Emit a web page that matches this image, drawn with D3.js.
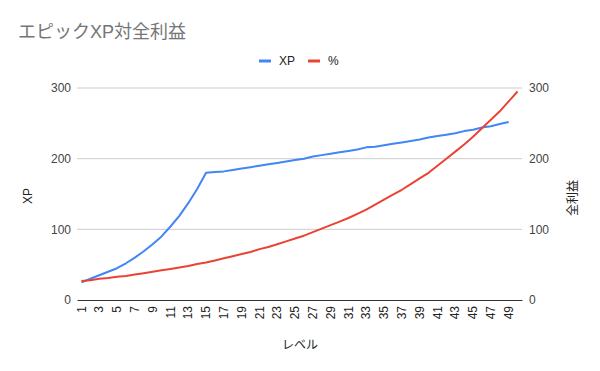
<!DOCTYPE html>
<html>
<head>
<meta charset="utf-8">
<script src="https://cdn.jsdelivr.net/npm/d3@7"></script>
<style>
	body { margin: 0; background: #fff; }
	svg text { font-family: Arial, "Liberation Sans", "Noto Sans CJK JP", sans-serif; }
</style>
</head>
<body>
<svg id="chart" width="600" height="371"></svg>
<script>
// levels 1..50
var levels = d3.range(1, 51);
var xpValues = [25, 30, 35, 40, 45, 52, 60, 69, 79, 90,
	104, 119, 137, 157, 180, 181, 182, 184, 186, 188,
	190, 192, 194, 196, 198, 200, 203, 205, 207, 209,
	211, 213, 216, 217, 219, 221, 223, 225, 227, 230,
	232, 234, 236, 239, 241, 244, 246, 249, 252];
var pctValues = [27, 28, 30, 31, 33, 34, 36, 38, 40, 42,
	44, 46, 48, 51, 53, 56, 59, 62, 65, 68,
	72, 75, 79, 83, 87, 91, 96, 101, 106, 111,
	116, 122, 128, 135, 142, 149, 156, 164, 172, 180,
	190, 200, 210, 220, 231, 243, 255, 267, 281, 295];
var yTicks = [0, 100, 200, 300];
var seriesNames = ['XP', '%'];
var seriesColors = ['#4285f4', '#ea4335'];

var svg = d3.select('#chart');
var plotLeft = 77, plotRight = 522, plotTop = 88, plotBottom = 300;

var x = d3.scaleBand().domain(levels).range([plotLeft, plotRight]);
var yL = d3.scaleLinear().domain([0, 300]).range([plotBottom, plotTop]);
var yR = d3.scaleLinear().domain([0, 300]).range([plotBottom, plotTop]);

// title
svg.append('text').attr('x', 18).attr('y', 38)
	.attr('fill', '#757575').style('font-size', '18px')
	.text('エピックXP対全利益');

// legend
var leg = svg.append('g');
var legX = [259, 308];
seriesNames.forEach(function(n, i) {
	leg.append('line')
		.attr('x1', legX[i]).attr('x2', legX[i] + 12)
		.attr('y1', 61).attr('y2', 61)
		.attr('stroke', seriesColors[i]).attr('stroke-width', 3);
	leg.append('text')
		.attr('x', legX[i] + 20).attr('y', 65)
		.attr('fill', '#222').style('font-size', '12px')
		.text(n);
});

// gridlines
svg.append('g').selectAll('line').data(yTicks.slice(1)).enter().append('line')
	.attr('x1', plotLeft).attr('x2', plotRight)
	.attr('y1', function(d) { return yL(d); }).attr('y2', function(d) { return yL(d); })
	.attr('stroke', '#cccccc').attr('stroke-width', 1);

// left axis
var axL = svg.append('g').attr('transform', 'translate(' + plotLeft + ',0)')
	.call(d3.axisLeft(yL).tickValues(yTicks).tickSize(0).tickPadding(6));
axL.select('.domain').remove();
axL.selectAll('text').attr('fill', '#444').style('font-size', '12px');

// right axis
var axR = svg.append('g').attr('transform', 'translate(' + plotRight + ',0)')
	.call(d3.axisRight(yR).tickValues(yTicks).tickSize(0).tickPadding(7));
axR.select('.domain').remove();
axR.selectAll('text').attr('fill', '#444').style('font-size', '12px');

// x axis
var axX = svg.append('g').attr('transform', 'translate(0,' + plotBottom + ')')
	.call(d3.axisBottom(x).tickValues(levels.filter(function(d) { return d % 2 === 1; })).tickSize(0));
axX.select('.domain').attr('stroke', '#333');
axX.selectAll('text')
	.attr('fill', '#222').style('font-size', '12px')
	.attr('text-anchor', 'end')
	.attr('transform', 'rotate(-90)')
	.attr('x', -6).attr('y', 0).attr('dy', '0.35em');

// axis titles
svg.append('text').attr('x', 300).attr('y', 349)
	.attr('text-anchor', 'middle').attr('fill', '#222').style('font-size', '12px')
	.text('レベル');
svg.append('text').attr('transform', 'translate(32,196) rotate(-90)')
	.attr('text-anchor', 'middle').attr('fill', '#222').style('font-size', '12px')
	.text('XP');
svg.append('text').attr('transform', 'translate(577,198) rotate(-90)')
	.attr('text-anchor', 'middle').attr('fill', '#222').style('font-size', '12px')
	.text('全利益');

// lines
var cx = function(i) { return x(levels[i]) + x.bandwidth() / 2; };
var lineL = d3.line().x(function(d, i) { return cx(i); }).y(function(d) { return yL(d); });
var lineR = d3.line().x(function(d, i) { return cx(i); }).y(function(d) { return yR(d); });

svg.append('path').datum(xpValues)
	.attr('d', lineL).attr('fill', 'none')
	.attr('stroke', seriesColors[0]).attr('stroke-width', 2).attr('stroke-linejoin', 'round');
svg.append('path').datum(pctValues)
	.attr('d', lineR).attr('fill', 'none')
	.attr('stroke', seriesColors[1]).attr('stroke-width', 2).attr('stroke-linejoin', 'round');
</script>
</body>
</html>
